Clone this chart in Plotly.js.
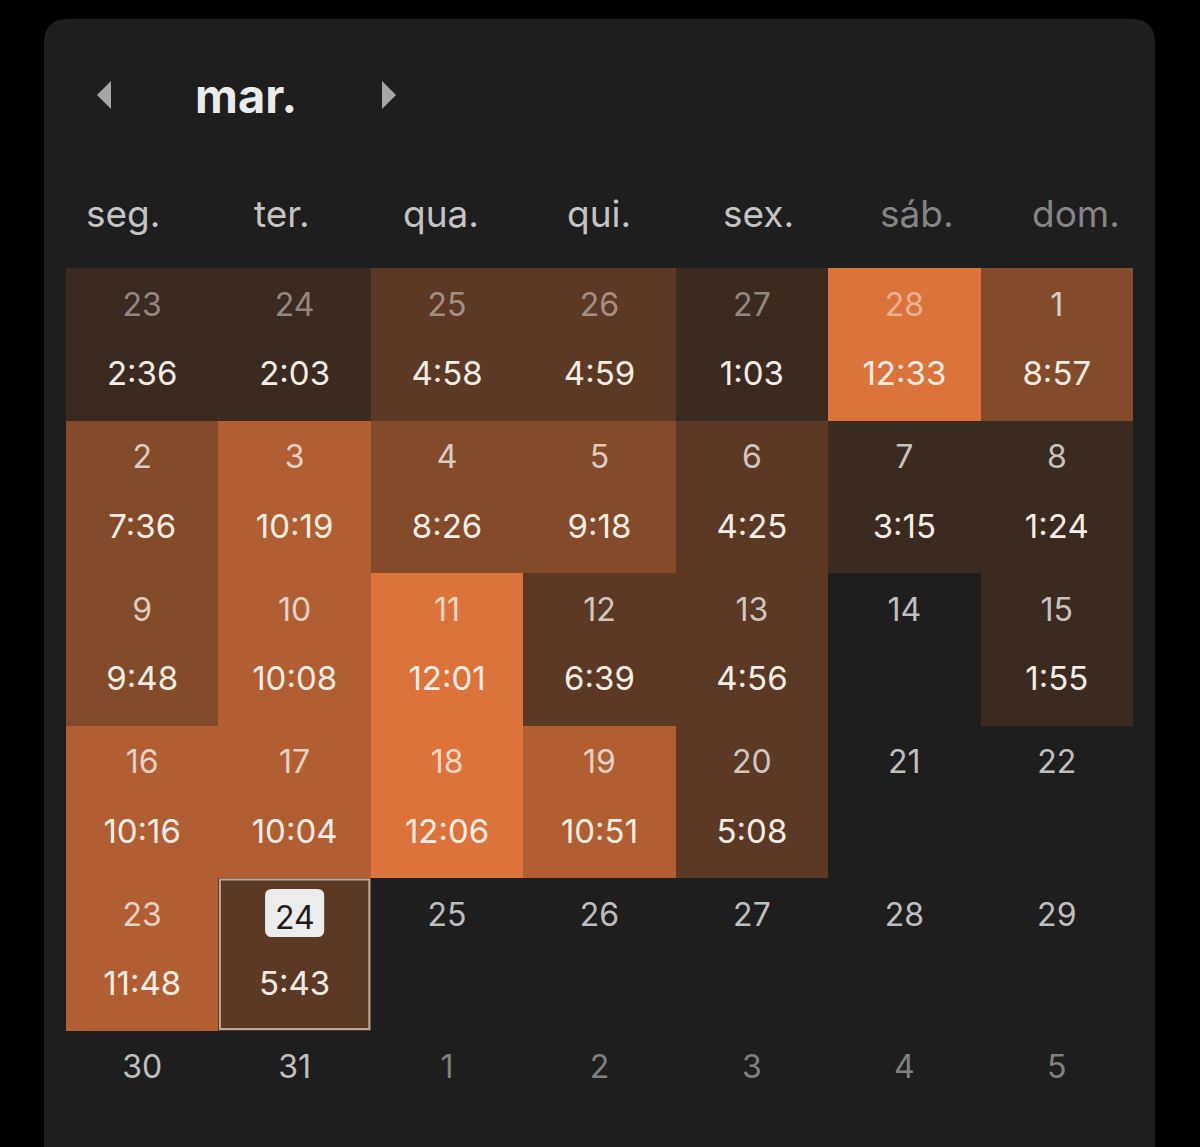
<!DOCTYPE html>
<html>
<head>
<meta charset="utf-8">
<script src="https://cdn.plot.ly/plotly-3.0.1.min.js"></script>
<style>
  html, body { margin: 0; padding: 0; background: #000; }
  #chart { width: 1200px; height: 1147px; }
</style>
</head>
<body>
<div id="chart"></div>
<script>
// ---- data ----
const monthTitle = 'mar.';
const weekdays = ['seg.', 'ter.', 'qua.', 'qui.', 'sex.', 'sáb.', 'dom.'];
const dayNumbers = [
  [23, 24, 25, 26, 27, 28, 1],
  [2, 3, 4, 5, 6, 7, 8],
  [9, 10, 11, 12, 13, 14, 15],
  [16, 17, 18, 19, 20, 21, 22],
  [23, 24, 25, 26, 27, 28, 29],
  [30, 31, 1, 2, 3, 4, 5]
];
// -1 = previous month, 0 = current month, 1 = next month
const monthOffset = [
  [-1, -1, -1, -1, -1, -1, 0],
  [0, 0, 0, 0, 0, 0, 0],
  [0, 0, 0, 0, 0, 0, 0],
  [0, 0, 0, 0, 0, 0, 0],
  [0, 0, 0, 0, 0, 0, 0],
  [0, 0, 1, 1, 1, 1, 1]
];
const sleepTimes = [
  ['2:36', '2:03', '4:58', '4:59', '1:03', '12:33', '8:57'],
  ['7:36', '10:19', '8:26', '9:18', '4:25', '3:15', '1:24'],
  ['9:48', '10:08', '12:01', '6:39', '4:56', '', '1:55'],
  ['10:16', '10:04', '12:06', '10:51', '5:08', '', ''],
  ['11:48', '5:43', '', '', '', '', ''],
  ['', '', '', '', '', '', '']
];
const todayCell = { row: 4, col: 1 };
const levelBreaks = [4, 7, 10, 12];   // hours
const levelColors = ['#3b2a20', '#5c3924', '#834b29', '#b05e32', '#dc733a'];

// ---- derived ----
const W = 1200, H = 1147;
const ZMAX = 15;
function toHours(s) {
  if (!s) return null;
  const [h, m] = s.split(':').map(Number);
  return h + m / 60;
}
const cols = [0, 1, 2, 3, 4, 5, 6];
const rows = dayNumbers.map((_, i) => i);
const zHours = sleepTimes.map(r => r.map(toHours));

// step colorscale
const cs = [];
const bounds = [0, ...levelBreaks.map(b => b / ZMAX), 1];
for (let i = 0; i < levelColors.length; i++) {
  cs.push([bounds[i], levelColors[i]]);
  cs.push([bounds[i + 1], levelColors[i]]);
}

const heat = {
  type: 'heatmap',
  x: cols, y: rows, z: zHours,
  zmin: 0, zmax: ZMAX,
  colorscale: cs,
  showscale: false,
  hoverinfo: 'skip',
  xgap: 0, ygap: 0
};

// text positions (offsets within a row, in row units)
const DAY_OFF = -0.238, VAL_OFF = 0.215;
const dx = [], dy = [], dt = [], dc = [];
const vx = [], vy = [], vt = [];
dayNumbers.forEach((r, ri) => r.forEach((d, ci) => {
  const isToday = ri === todayCell.row && ci === todayCell.col;
  const mo = monthOffset[ri][ci];
  if (!isToday) {
    dx.push(ci); dy.push(ri + DAY_OFF); dt.push(String(d));
    dc.push(mo === 0 ? 'rgba(255,255,255,0.72)' : 'rgba(255,255,255,0.45)');
  }
  const v = sleepTimes[ri][ci];
  if (v) { vx.push(ci); vy.push(ri + VAL_OFF); vt.push(v); }
}));

const FONT = 'Inter, "Noto Sans", Roboto, sans-serif';

const dayTrace = {
  type: 'scatter', mode: 'text', x: dx, y: dy, text: dt,
  textposition: 'middle center',
  textfont: { family: FONT, size: 32, color: dc },
  hoverinfo: 'skip', cliponaxis: false
};
const valTrace = {
  type: 'scatter', mode: 'text', x: vx, y: vy, text: vt,
  textposition: 'middle center',
  textfont: { family: FONT, size: 33, color: '#f6eee6' },
  hoverinfo: 'skip', cliponaxis: false
};

// paper helpers (margins are 0 so paper == page pixels)
const px = x => x / W;
const py = y => 1 - y / H;

// card with rounded top corners
const cx0 = 44, cx1 = 1155, cy0 = 19, cy1 = 1200, R = 24;
const cardPath = `M ${px(cx0)},${py(cy1)} L ${px(cx0)},${py(cy0 + R)} Q ${px(cx0)},${py(cy0)} ${px(cx0 + R)},${py(cy0)} ` +
  `L ${px(cx1 - R)},${py(cy0)} Q ${px(cx1)},${py(cy0)} ${px(cx1)},${py(cy0 + R)} L ${px(cx1)},${py(cy1)} Z`;

// today highlight (data coords)
const tr = todayCell.row, tc = todayCell.col;
const bx0 = tc - 0.194, bx1 = tc + 0.194;
const by0 = tr - 0.5 + 0.072, by1 = tr - 0.5 + 0.387;
const rx = 0.045, ry = 0.045;
const badgePath = `M ${bx0 + rx},${by0} L ${bx1 - rx},${by0} Q ${bx1},${by0} ${bx1},${by0 + ry} ` +
  `L ${bx1},${by1 - ry} Q ${bx1},${by1} ${bx1 - rx},${by1} L ${bx0 + rx},${by1} Q ${bx0},${by1} ${bx0},${by1 - ry} ` +
  `L ${bx0},${by0 + ry} Q ${bx0},${by0} ${bx0 + rx},${by0} Z`;

const shapes = [
  { type: 'path', xref: 'paper', yref: 'paper', path: cardPath, fillcolor: '#1e1e1e', line: { width: 0 }, layer: 'below' },
  { type: 'path', xref: 'paper', yref: 'paper', layer: 'above',
    path: `M ${px(111)},${py(81)} L ${px(97)},${py(95)} L ${px(111)},${py(109)} Z`, fillcolor: '#a6a6a6', line: { width: 0 } },
  { type: 'path', xref: 'paper', yref: 'paper', layer: 'above',
    path: `M ${px(382)},${py(81)} L ${px(396)},${py(95)} L ${px(382)},${py(109)} Z`, fillcolor: '#a6a6a6', line: { width: 0 } },
  { type: 'rect', xref: 'x', yref: 'y', x0: tc - 0.5 + 0.01, x1: tc + 0.5 - 0.01, y0: tr - 0.5 + 0.01, y1: tr + 0.5 - 0.01,
    line: { color: '#b5a89e', width: 2 }, fillcolor: 'rgba(0,0,0,0)', layer: 'above' },
  { type: 'path', xref: 'x', yref: 'y', path: badgePath, fillcolor: '#ececec', line: { width: 0 }, layer: 'above' }
];

const annotations = [
  { xref: 'paper', yref: 'paper', x: px(246), y: py(95), text: '<b>' + monthTitle + '</b>', showarrow: false,
    xanchor: 'center', yanchor: 'middle', font: { family: FONT, size: 47, color: '#ebebeb' } },
  { xref: 'x', yref: 'y', x: tc, y: tr + DAY_OFF, text: String(dayNumbers[tr][tc]), showarrow: false,
    xanchor: 'center', yanchor: 'middle', font: { family: FONT, size: 32, color: '#1c1c1c' } }
];
// weekday header sits on its own, slightly wider, pitch
const headerLeft = 123, headerPitch = 158.8;
weekdays.forEach((w, i) => {
  annotations.push({ xref: 'paper', yref: 'paper', x: px(headerLeft + headerPitch * i), y: py(213), text: w, showarrow: false,
    xanchor: 'center', yanchor: 'middle',
    font: { family: FONT, size: 37, color: i >= 5 ? '#858585' : '#c4c4c4' } });
});

const rowH = 152.5;
const gridTop = 268;
const visibleRows = (H - gridTop) / rowH;

const layout = {
  width: W, height: H,
  margin: { l: 0, r: 0, t: 0, b: 0, pad: 0 },
  paper_bgcolor: '#000000',
  plot_bgcolor: 'rgba(0,0,0,0)',
  showlegend: false,
  xaxis: { domain: [px(66), px(1133)], range: [-0.5, 6.5], visible: false, fixedrange: true },
  yaxis: { domain: [0, py(gridTop)], range: [-0.5 + visibleRows, -0.5], visible: false, fixedrange: true },
  shapes, annotations
};

Plotly.newPlot('chart', [heat, dayTrace, valTrace], layout, { displayModeBar: false, staticPlot: true });
</script>
</body>
</html>
